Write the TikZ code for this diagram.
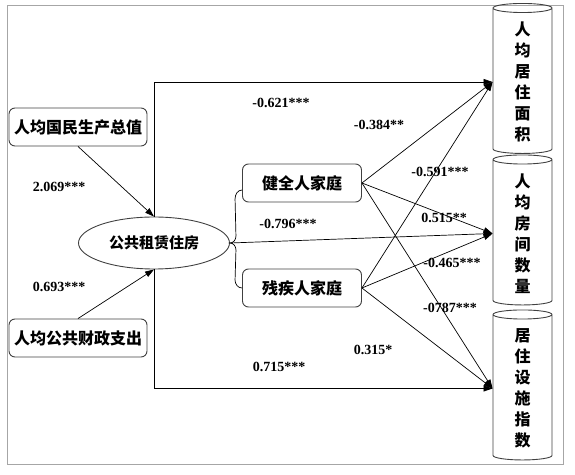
\documentclass[tikz,border=0pt]{standalone}
\usepackage{fontspec}
\setmainfont{Liberation Serif}
\newfontfamily\cjk{Noto Sans CJK SC}
\usetikzlibrary{positioning,arrows.meta,shapes.geometric,calc}

\tikzset{
  factor/.style={draw=black!75,line width=0.9pt,rounded corners=6pt,minimum width=138,minimum height=38,font=\cjk\bfseries\fontsize{16}{18}\selectfont},
  group/.style={factor,minimum width=119},
  outcome/.style={cylinder,shape border rotate=90,draw=black!75,line width=0.9pt,aspect=0.4,minimum width=59,minimum height=150,align=center,font=\cjk\bfseries\fontsize{16}{21}\selectfont},
  coef/.style={font=\bfseries\fontsize{14}{16}\selectfont},
  link/.style={-{Triangle[length=9pt,width=6pt]},line width=0.7pt},
}

\begin{document}
\begin{tikzpicture}[x=1pt,y=1pt]
  \useasboundingbox (0,0) rectangle (575,474);
  \draw[gray!70,line width=1pt] (7,10) rectangle (563,468);

  % predictors and mediator
  \node[factor] (gdp) at (78,347) {人均国民生产总值};
  \node[factor] (fiscal) at (78,136) {人均公共财政支出};
  \node[ellipse,draw=black!75,line width=0.9pt,minimum width=151,minimum height=52,font=\cjk\bfseries\fontsize{15}{17}\selectfont] (housing) at (154,231) {公共租赁住房};
  \node[group] (healthy) at (302,291) {健全人家庭};
  \node[group] (disabled) at (302,186) {残疾人家庭};

  % outcomes
  \node[outcome] (area) at (522.5,392) {人\\均\\居\\住\\面\\积};
  \node[outcome] (rooms) at (522.5,240.5) {人\\均\\房\\间\\数\\量};
  \node[outcome] (facility) at (522.5,85.5) {居\\住\\设\\施\\指\\数};

  % brace
  \draw[line width=0.7pt] ($(healthy.west)+(0,-7)$) to[out=180,in=90] ++(-7,-9)
    -- ($(housing.east)+(6,7)$) to[out=-90,in=0] (housing.east)
    to[out=0,in=90] ($(housing.east)+(6,-7)$)
    -- ($(disabled.west)+(-7,8)$) to[out=-90,in=180] (disabled.west);

  % paths
  \draw[link] (gdp.south) -- (housing.north);
  \draw[link] (fiscal.north) -- (housing.south);
  \draw[link] (housing.north) |- (area.west);
  \draw[link] (housing.south) |- (facility.west);
  \draw[link] (housing.east) -- (rooms.west);
  \foreach \g in {healthy,disabled}
    \foreach \o in {area,rooms,facility}
      \draw[link] (\g.east) -- (\o.west);

  % coefficients
  \node[coef] (k1) at (59,287) {2.069***};
  \node[coef] (k2) at (59,187) {0.693***};
  \node[coef] (k3) at (281,371) {-0.621***};
  \node[coef] (k4) at (379,349) {-0.384**};
  \node[coef] (k5) at (440,302) {-0.591***};
  \node[coef] (k6) at (444,256) {0.515**};
  \node[coef] (k7) at (288,250) {-0.796***};
  \node[coef] (k8) at (452,211) {-0.465***};
  \node[coef] (k9) at (450,166) {-0787***};
  \node[coef] (k10) at (373,124) {0.315*};
  \node[coef] (k11) at (279,107) {0.715***};
\end{tikzpicture}
\end{document}
